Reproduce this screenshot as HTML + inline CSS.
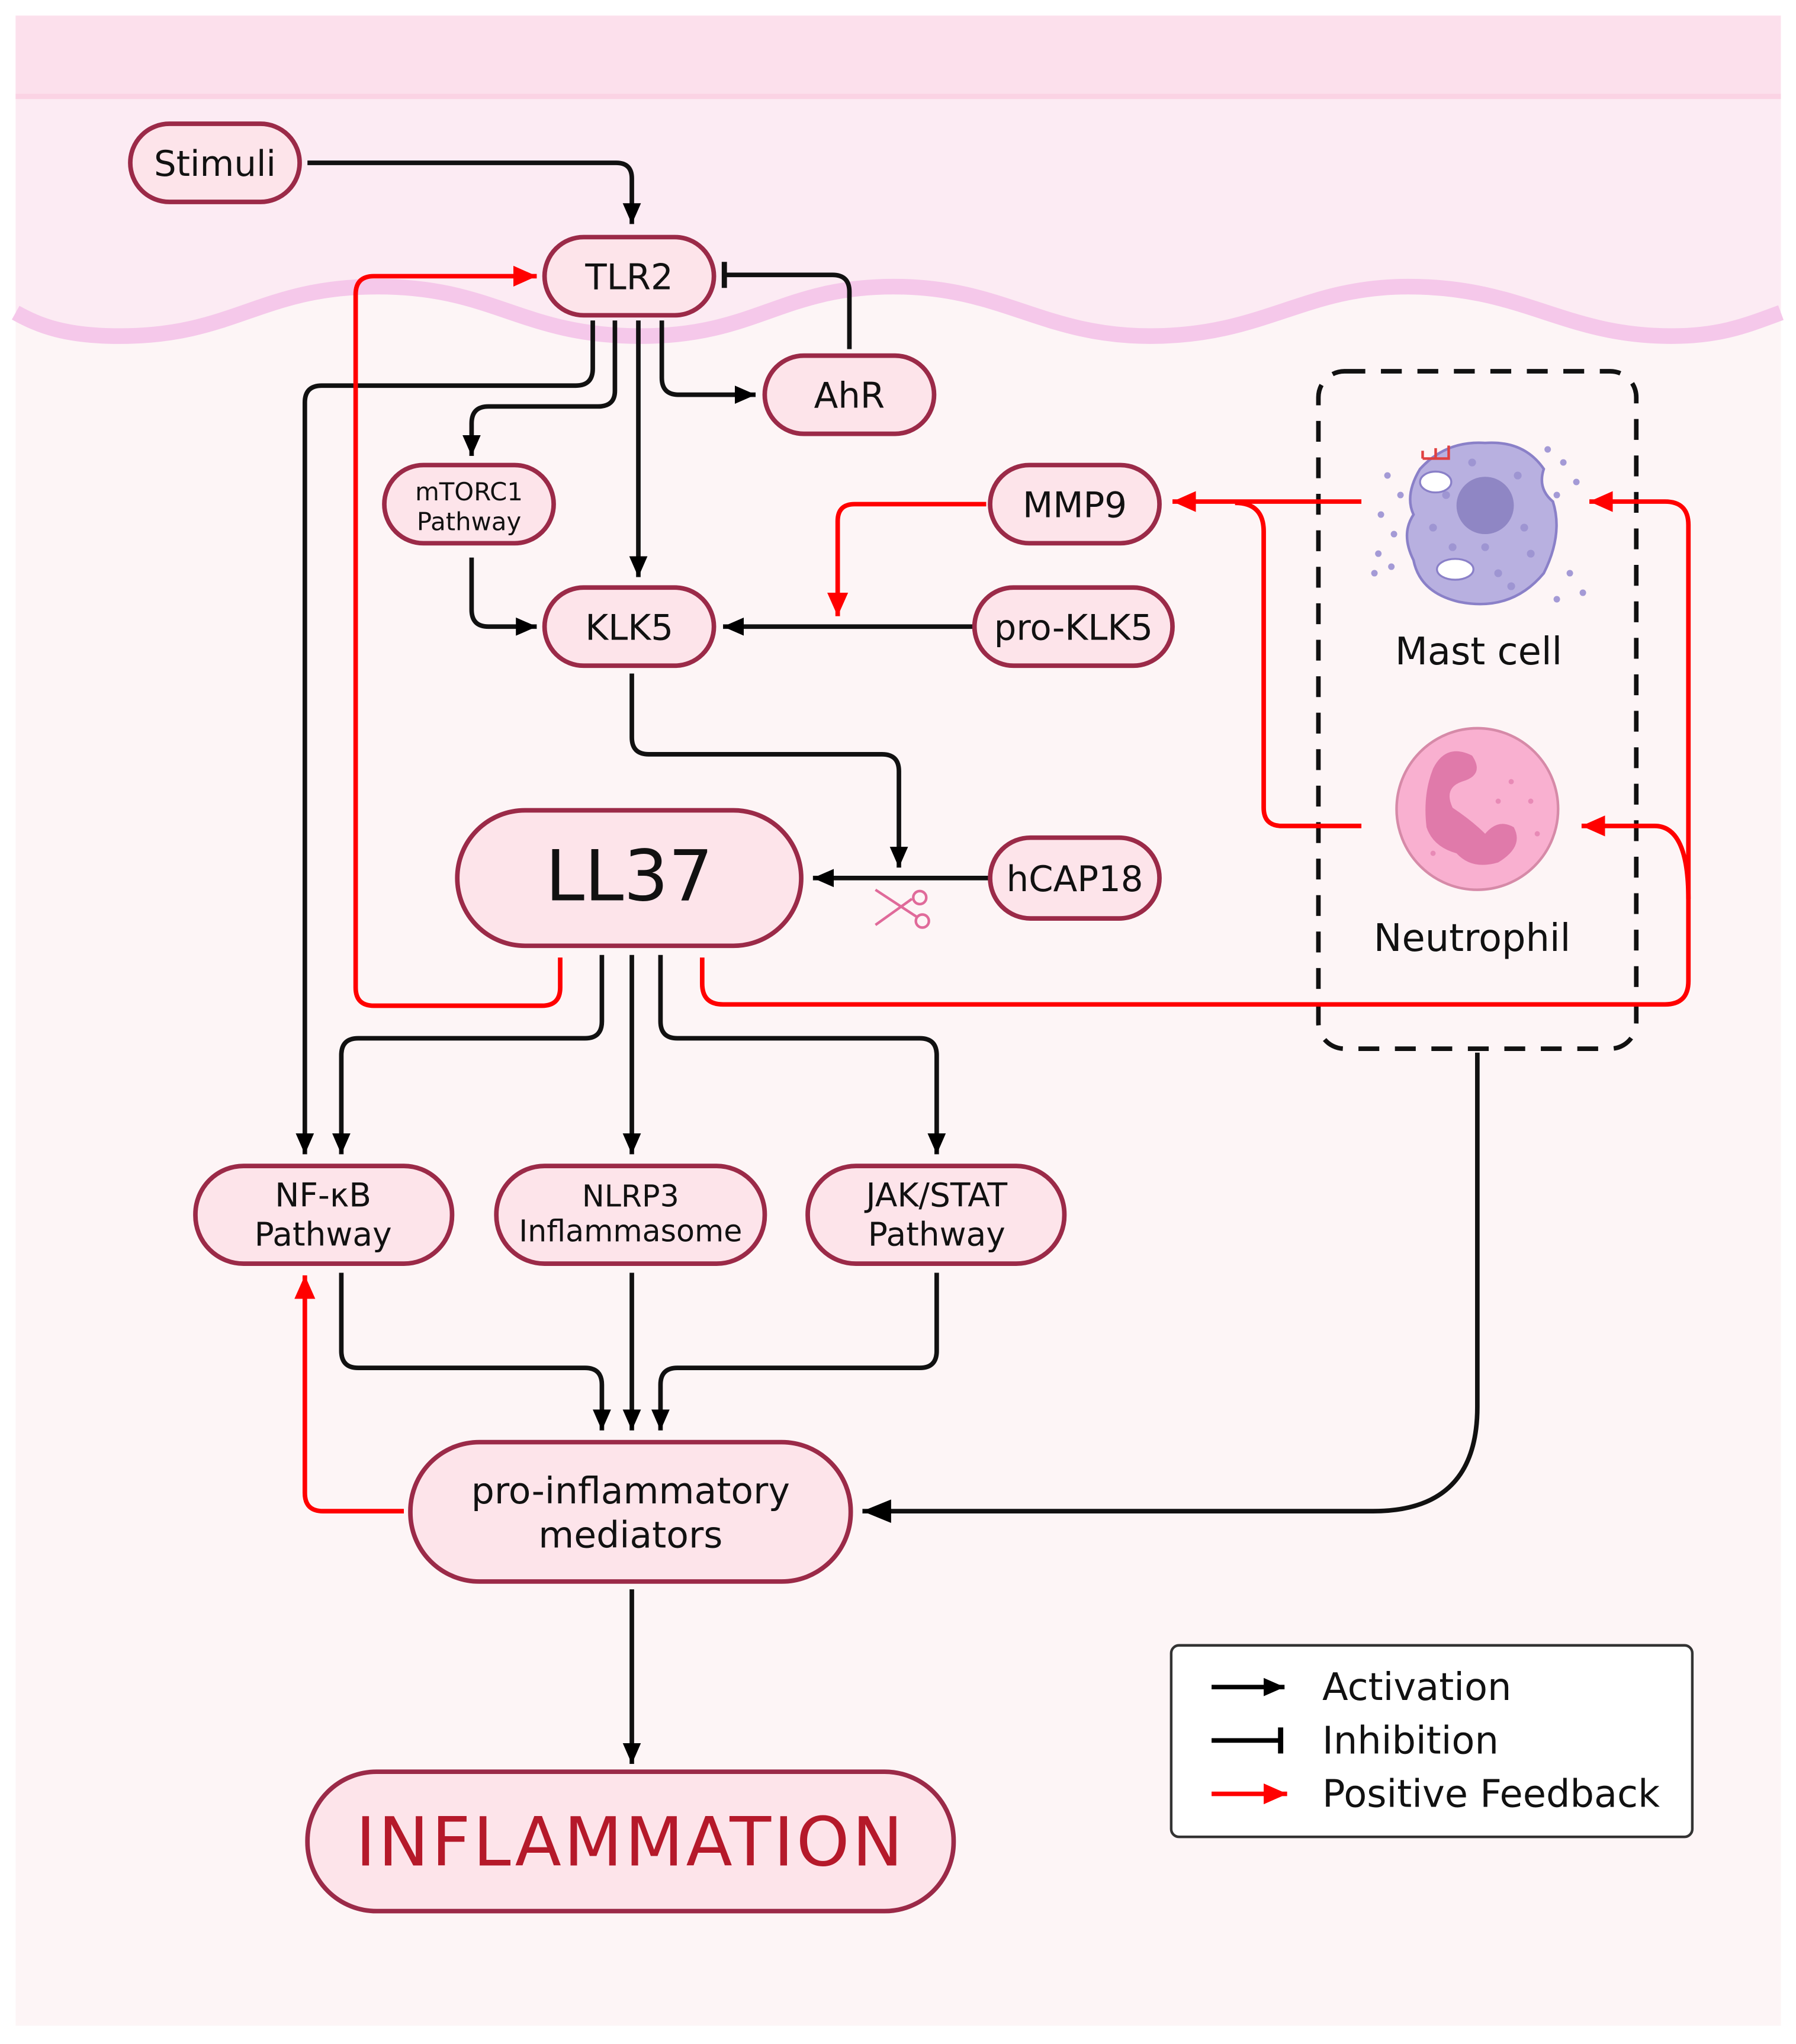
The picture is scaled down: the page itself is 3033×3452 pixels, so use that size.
<!DOCTYPE html>
<html><head><meta charset="utf-8"><style>
html,body{margin:0;padding:0;background:#fff}
svg{display:block}
text{font-family:"DejaVu Sans","Liberation Sans",sans-serif;text-anchor:middle;fill:#111}
</style></head><body>
<svg width="3033" height="3452" viewBox="0 0 1378.6 1569" preserveAspectRatio="none" xmlns="http://www.w3.org/2000/svg">
<defs>
<marker id="ab" markerUnits="userSpaceOnUse" markerWidth="18" markerHeight="18" refX="16" refY="8" orient="auto"><path d="M0,1 L16,8 L0,15 Z" fill="#000"/></marker>
<marker id="ar" markerUnits="userSpaceOnUse" markerWidth="20" markerHeight="20" refX="18" refY="9" orient="auto"><path d="M0,1 L18,9 L0,17 Z" fill="#f00"/></marker>
<marker id="abig" markerUnits="userSpaceOnUse" markerWidth="24" markerHeight="24" refX="22" refY="11" orient="auto"><path d="M0,2 L22,11 L0,20 Z" fill="#000"/></marker>
</defs>
<rect x="0" y="0" width="1379" height="1569" fill="#fff"/>
<rect x="12" y="12" width="1355" height="1543" fill="#fdf5f6"/>
<path d="M12,12 H1367 V240 C1340,250 1320,258 1283,258 C1200,258 1170,220 1081,220 C1000,220 970,258 883,258 C800,258 770,220 686,220 C600,220 580,258 492,258 C400,258 380,220 290,220 C200,220 180,258 92,258 C50,258 30,250 12,240 Z" fill="#fcebf3"/>
<rect x="12" y="12" width="1355" height="64" fill="#fce0ec"/>
<rect x="12" y="72" width="1355" height="4" fill="#fbd3e4"/>
<path d="M12,240 C30,250 50,258 92,258 C180,258 200,220 290,220 C380,220 400,258 492,258 C580,258 600,220 686,220 C770,220 800,258 883,258 C970,258 1000,220 1081,220 C1170,220 1200,258 1283,258 C1320,258 1340,250 1367,240" fill="none" stroke="#f5c8ea" stroke-width="12"/>

<!-- dashed box -->
<rect x="1012" y="285" width="244" height="520" rx="20" fill="none" stroke="#111" stroke-width="3.5" stroke-dasharray="16,12"/>

<!-- black connectors -->
<g fill="none" stroke="#111" stroke-width="3.5">
<path d="M236,125 H473 Q485,125 485,137 V172" marker-end="url(#ab)"/>
<path d="M652,268 V224 Q652,211 639,211 H557"/>
<path d="M556,201 V221" stroke-width="4"/>
<path d="M455,246 V283 Q455,296 442,296 H247 Q234,296 234,309 V886" marker-end="url(#ab)"/>
<path d="M472,246 V300 Q472,312 459,312 H375 Q362,312 362,325 V350" marker-end="url(#ab)"/>
<path d="M490,246 V443" marker-end="url(#ab)"/>
<path d="M508,246 V290 Q508,303 521,303 H580" marker-end="url(#ab)"/>
<path d="M362,428 V468 Q362,481 375,481 H412" marker-end="url(#ab)"/>
<path d="M748,481 H555" marker-end="url(#ab)"/>
<path d="M485,517 V566 Q485,579 498,579 H677 Q690,579 690,592 V666" marker-end="url(#ab)"/>
<path d="M760,674 H624" marker-end="url(#ab)"/>
<path d="M462,733 V784 Q462,797 449,797 H275 Q262,797 262,810 V886" marker-end="url(#ab)"/>
<path d="M485,733 V886" marker-end="url(#ab)"/>
<path d="M507,733 V784 Q507,797 520,797 H706 Q719,797 719,810 V886" marker-end="url(#ab)"/>
<path d="M262,977 V1037 Q262,1050 275,1050 H449 Q462,1050 462,1063 V1098" marker-end="url(#ab)"/>
<path d="M485,977 V1098" marker-end="url(#ab)"/>
<path d="M719,977 V1037 Q719,1050 706,1050 H520 Q507,1050 507,1063 V1098" marker-end="url(#ab)"/>
<path d="M1134,808 V1080 Q1134,1160 1054,1160 H662" marker-end="url(#abig)"/>
<path d="M485,1220 V1354" marker-end="url(#ab)"/>
</g>

<!-- red connectors -->
<g fill="none" stroke="#f00" stroke-width="3.5">
<path d="M430,735 V758 Q430,772 416,772 H287 Q273,772 273,758 V226 Q273,212 287,212 H412" marker-end="url(#ar)"/>
<path d="M539,735 V755 Q539,771 555,771 H1278 Q1296,771 1296,753 V403 Q1296,385 1278,385 H1220" marker-end="url(#ar)"/>
<path d="M1296,690 Q1296,634 1270,634 H1214" marker-end="url(#ar)"/>
<path d="M1045,385 H900" marker-end="url(#ar)"/>
<path d="M1045,634 H984 Q970,634 970,620 V408 Q970,386 948,386"/>
<path d="M757,387 H656 Q643,387 643,400 V473" marker-end="url(#ar)"/>
<path d="M310,1160 H248 Q234,1160 234,1146 V979" marker-end="url(#ar)"/>
</g>

<!-- scissors -->
<g stroke="#e06a9a" stroke-width="2" fill="none">
<path d="M672,683 L704,704"/><path d="M672,710 L700,690"/>
<circle cx="708" cy="707" r="5"/><circle cx="706" cy="689" r="5"/>
</g>

<!-- nodes -->
<g fill="#fde4ea" stroke="#9b2a48" stroke-width="3.5">
<rect x="100" y="95" width="130" height="60" rx="30"/>
<rect x="418" y="182" width="130" height="60" rx="30"/>
<rect x="587" y="273" width="130" height="60" rx="30"/>
<rect x="295" y="357" width="130" height="60" rx="30"/>
<rect x="418" y="451" width="130" height="60" rx="30"/>
<rect x="760" y="357" width="130" height="60" rx="30"/>
<rect x="748" y="451" width="152" height="60" rx="30"/>
<rect x="351" y="622" width="264" height="104" rx="52"/>
<rect x="760" y="643" width="130" height="62" rx="31"/>
<rect x="150" y="895" width="197" height="75" rx="37"/>
<rect x="381" y="895" width="206" height="75" rx="37"/>
<rect x="620" y="895" width="197" height="75" rx="37"/>
<rect x="315" y="1107" width="338" height="107" rx="53"/>
<rect x="236" y="1360" width="496" height="107" rx="53"/>
</g>
<g font-size="27">
<text x="165" y="135">Stimuli</text>
<text x="483" y="222">TLR2</text>
<text x="652" y="313">AhR</text>
<text x="483" y="491">KLK5</text>
<text x="825" y="397">MMP9</text>
<text x="824" y="491">pro-KLK5</text>
<text x="825" y="684">hCAP18</text>
</g>
<text x="360" y="384" font-size="19">mTORC1</text>
<text x="360" y="407" font-size="19">Pathway</text>
<text x="483" y="691" font-size="54">LL37</text>
<text x="248" y="926" font-size="25">NF-κB</text>
<text x="248" y="956" font-size="25">Pathway</text>
<text x="484" y="926" font-size="23">NLRP3</text>
<text x="484" y="953" font-size="23">Inflammasome</text>
<text x="719" y="926" font-size="25">JAK/STAT</text>
<text x="719" y="956" font-size="25">Pathway</text>
<text x="484" y="1154" font-size="28">pro-inflammatory</text>
<text x="484" y="1188" font-size="28">mediators</text>
<text x="484" y="1432" font-size="52" style="fill:#b5192a;letter-spacing:2px">INFLAMMATION</text>

<!-- mast cell -->
<g>
<g fill="#a49ad6">
<circle cx="1065" cy="365" r="2.5"/><circle cx="1075" cy="380" r="2.5"/><circle cx="1060" cy="395" r="2.5"/><circle cx="1070" cy="410" r="2.5"/><circle cx="1058" cy="425" r="2.5"/><circle cx="1068" cy="435" r="2.5"/><circle cx="1200" cy="355" r="2.5"/><circle cx="1210" cy="370" r="2.5"/><circle cx="1195" cy="380" r="2.5"/><circle cx="1205" cy="440" r="2.5"/><circle cx="1215" cy="455" r="2.5"/><circle cx="1195" cy="460" r="2.5"/><circle cx="1188" cy="345" r="2.5"/><circle cx="1055" cy="440" r="2.5"/>
</g>
<path d="M1090,360 Q1110,338 1140,340 Q1170,338 1185,360 Q1180,375 1192,385 Q1200,410 1185,440 Q1160,470 1120,462 Q1090,455 1085,430 Q1075,410 1085,395 Q1078,380 1090,360 Z" fill="#b8b0e0" stroke="#8a80c8" stroke-width="2"/>
<g fill="#9e95d2">
<circle cx="1110" cy="380" r="3"/><circle cx="1100" cy="405" r="3"/><circle cx="1115" cy="420" r="3"/><circle cx="1170" cy="405" r="3"/><circle cx="1175" cy="425" r="3"/><circle cx="1150" cy="440" r="3"/><circle cx="1165" cy="365" r="3"/><circle cx="1130" cy="355" r="3"/><circle cx="1140" cy="420" r="3"/><circle cx="1160" cy="450" r="3"/>
</g>
<circle cx="1140" cy="388" r="22" fill="#8f86c4"/>
<ellipse cx="1102" cy="370" rx="12" ry="8" fill="#fff" stroke="#8a80c8" stroke-width="1.5"/>
<ellipse cx="1117" cy="437" rx="14" ry="8" fill="#fff" stroke="#8a80c8" stroke-width="1.5"/>
<path d="M1092,352 V346 M1092,352 H1102 V344 M1102,352 H1112 V342" stroke="#e04040" stroke-width="2" fill="none"/>
</g>
<text x="1135" y="510" font-size="29">Mast cell</text>
<!-- neutrophil -->
<circle cx="1134" cy="621" r="62" fill="#f9b0d0" stroke="#d68aa8" stroke-width="2"/>
<path d="M1100,590 Q1110,570 1130,580 Q1140,595 1122,600 Q1108,605 1115,620 Q1130,630 1140,640 Q1150,628 1162,635 Q1170,650 1150,662 Q1130,668 1118,655 Q1100,650 1095,635 Q1092,610 1100,590 Z" fill="#e07aaa"/>
<g fill="#e88ab6"><circle cx="1160" cy="600" r="2"/><circle cx="1175" cy="615" r="2"/><circle cx="1150" cy="615" r="2"/><circle cx="1100" cy="655" r="2"/><circle cx="1180" cy="640" r="2"/></g>
<text x="1130" y="730" font-size="29">Neutrophil</text>

<!-- legend -->
<rect x="899" y="1263" width="400" height="147" rx="6" fill="#fff" stroke="#333" stroke-width="2"/>
<path d="M930,1295 H986" stroke="#000" stroke-width="3.5" marker-end="url(#ab)"/>
<path d="M930,1336 H982" stroke="#000" stroke-width="3.5"/><path d="M983,1326 V1346" stroke="#000" stroke-width="4"/>
<path d="M930,1377 H988" stroke="#f00" stroke-width="3.5" marker-end="url(#ar)"/>
<g font-size="29" style="text-anchor:start">
<text x="1015" y="1305" style="text-anchor:start">Activation</text>
<text x="1015" y="1346" style="text-anchor:start">Inhibition</text>
<text x="1015" y="1387" style="text-anchor:start">Positive Feedback</text>
</g>
</svg>
</body></html>
